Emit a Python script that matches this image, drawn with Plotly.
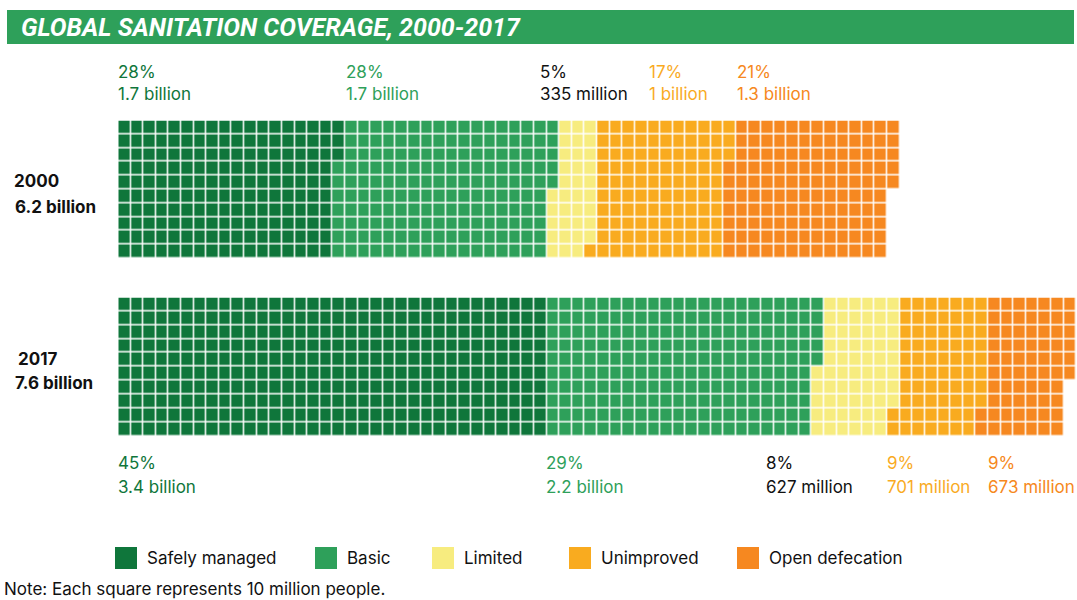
import plotly.graph_objects as go

# ---------------- data ----------------
years = ["2000", "2017"]
totals = ["6.2 billion", "7.6 billion"]
categories = ["Safely managed", "Basic", "Limited", "Unimproved", "Open defecation"]
# number of squares (each = 10 million people)
squares_2000 = [173, 172, 34, 104, 132]
squares_2017 = [340, 215, 63, 70, 68]
pct_2000 = ["28%", "28%", "5%", "17%", "21%"]
pop_2000 = ["1.7 billion", "1.7 billion", "335 million", "1 billion", "1.3 billion"]
pct_2017 = ["45%", "29%", "8%", "9%", "9%"]
pop_2017 = ["3.4 billion", "2.2 billion", "627 million", "701 million", "673 million"]

# ---------------- style ----------------
colors = ["#0F763B", "#2EA05A", "#F7EC7F", "#F9AB1F", "#F68820"]
label_colors = ["#0F763B", "#2EA05A", "#111111", "#F9AB1F", "#F68820"]
FONT = "Inter"
W, H = 1077, 600
ROWS, NCOLS = 10, 76


def px(x):
    return x / W


def py(y):
    return 1 - y / H


def waffle(counts):
    seq = []
    for i, c in enumerate(counts):
        seq += [i] * c
    z = [[None] * NCOLS for _ in range(ROWS)]
    for k, v in enumerate(seq):
        col, row = divmod(k, ROWS)
        z[row][col] = v
    return z


n = len(colors)
colorscale = []
for i, c in enumerate(colors):
    colorscale.append([i / n, c])
    colorscale.append([(i + 1) / n, c])

fig = go.Figure()
for counts, yax in [(squares_2000, "y"), (squares_2017, "y2")]:
    fig.add_trace(go.Heatmap(
        z=waffle(counts), x=list(range(NCOLS)), y=list(range(ROWS)),
        colorscale=colorscale, zmin=-0.5, zmax=n - 0.5, showscale=False,
        xgap=1.5, ygap=1.5, xaxis="x", yaxis=yax, hoverinfo="skip",
    ))

ax_common = dict(showgrid=False, zeroline=False, showticklabels=False, ticks="", showline=False)
fig.update_layout(
    width=W, height=H, margin=dict(l=0, r=0, t=0, b=0),
    paper_bgcolor="white", plot_bgcolor="white",
    xaxis=dict(domain=[px(118.3), px(1076.5)], range=[-0.5, NCOLS - 0.5], anchor="y", **ax_common),
    yaxis=dict(domain=[py(258.5), py(120.5)], range=[ROWS - 0.5, -0.5], anchor="x", **ax_common),
    yaxis2=dict(domain=[py(436), py(297.5)], range=[ROWS - 0.5, -0.5], anchor="x", **ax_common),
    showlegend=False,
)

shapes = [dict(type="rect", xref="paper", yref="paper", x0=px(7), x1=px(1074), y0=py(44), y1=py(10),
               fillcolor="#2EA05A", line=dict(width=0), layer="below")]
ann = [dict(text="<b><i>GLOBAL SANITATION COVERAGE, 2000-2017</i></b>", x=px(19), y=py(27.5),
            xref="paper", yref="paper", xanchor="left", yanchor="middle", showarrow=False,
            font=dict(family="Roboto", size=25, color="white"))]


def label(text, x, y, color, size=17, bold=False):
    t = f"<b>{text}</b>" if bold else text
    ann.append(dict(text=t, x=px(x), y=py(y), xref="paper", yref="paper", xanchor="left",
                    yanchor="middle", showarrow=False, font=dict(family=FONT, size=size, color=color)))


top_x = [116, 344, 538, 647, 735]
bot_x = [116, 544, 764, 885, 986]
for i in range(n):
    label(pct_2000[i], top_x[i], 72, label_colors[i])
    label(pop_2000[i], top_x[i], 94, label_colors[i])
    label(pct_2017[i], bot_x[i], 463, label_colors[i])
    label(pop_2017[i], bot_x[i], 487, label_colors[i])

label(years[0], 12, 181, "#111111", 17, True)
label(totals[0], 13, 207, "#111111", 17, True)
label(years[1], 16, 359, "#111111", 17, True)
label(totals[1], 13, 383, "#111111", 17, True)

leg_x = [115, 315, 432, 569, 737]
for i in range(n):
    shapes.append(dict(type="rect", xref="paper", yref="paper", x0=px(leg_x[i]), x1=px(leg_x[i] + 22),
                       y0=py(569), y1=py(547), fillcolor=colors[i], line=dict(width=0)))
    label(categories[i], leg_x[i] + 30, 558, "#111111")

label("Note: Each square represents 10 million people.", 2, 589, "#111111")

fig.update_layout(shapes=shapes, annotations=ann)
fig.write_html("out.html", config={"displayModeBar": False},
               post_script="document.body.style.margin='0';document.body.style.overflow='hidden';")
